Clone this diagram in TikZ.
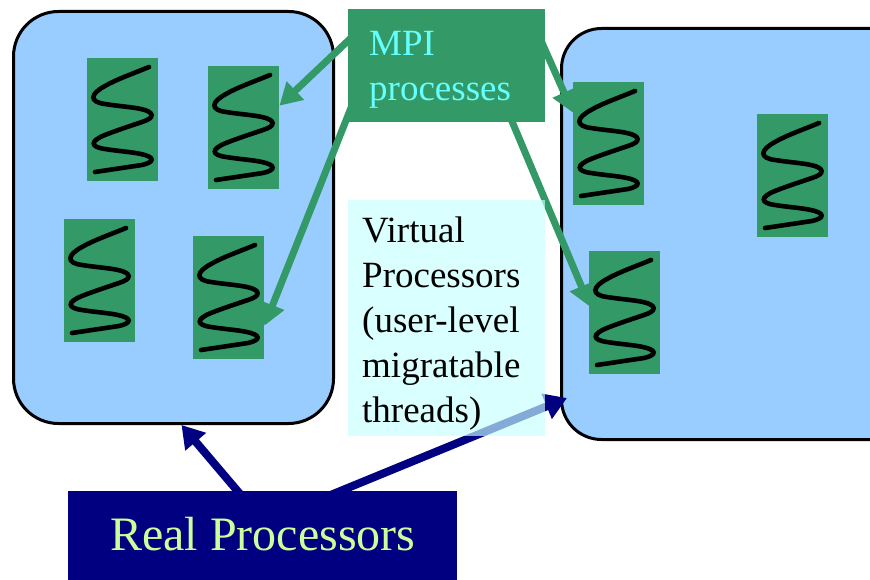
\documentclass[tikz,border=0pt]{standalone}
\usepackage{fontspec}
\setmainfont{Liberation Serif}
\usetikzlibrary{arrows.meta}
\definecolor{pblue}{HTML}{99CCFF}
\definecolor{tgreen}{HTML}{339966}
\definecolor{navyb}{HTML}{000080}
\definecolor{cyantext}{HTML}{66FFFF}
\definecolor{realtext}{HTML}{CCFF99}
\definecolor{vfill}{RGB}{198,255,255}
\pgfdeclarelayer{bgl}
\pgfdeclarelayer{arl}
\pgfsetlayers{bgl,arl,main}
\tikzset{
  procbox/.style={draw=black, line width=3pt, fill=pblue, rounded corners=45pt, anchor=north west, inner sep=0pt},
  thr/.style={fill=tgreen, minimum width=71pt, minimum height=123pt, inner sep=0pt, anchor=north west},
  squig/.style={line width=4.6pt, line cap=round, black},
  garrow/.style={draw=tgreen, line width=7pt, -{Triangle[length=22pt,width=24pt]}},
  narrow/.style={draw=navyb, line width=8pt, -{Triangle[length=22pt,width=26pt]}},
}
\newcommand\mythread[3]{%
  \node[thr] (#1) at (#2,#3) {};
  \draw[squig, shift={(#1.north west)}] (62,9) .. controls (45,16) and (28,22) .. (18,28) .. controls (3,36) and (2,44) .. (18,46) .. controls (30,48) and (45,49) .. (54,51) .. controls (68,54) and (68,60) .. (55,64) .. controls (40,69) and (28,73) .. (18,77) .. controls (3,83) and (3,89) .. (18,91) .. controls (30,93) and (45,94) .. (54,96) .. controls (68,99) and (68,104) .. (55,107) -- (8,114);
}
\begin{document}
\begin{tikzpicture}[x=1pt,y=-1pt]
\useasboundingbox (0,0) rectangle (870,580);
\begin{pgfonlayer}{bgl}
  \clip (0,0) rectangle (870,580);
  \node[procbox, minimum width=320pt, minimum height=412pt] (L) at (12,10) {};
  \node[procbox, minimum width=350pt, minimum height=411pt, rounded corners=40pt] (R) at (560,27) {};
  \mythread{t1}{87}{58}
  \mythread{t2}{208}{66}
  \mythread{t3}{64}{219}
  \mythread{t4}{193}{236}
  \mythread{t5}{573}{82}
  \mythread{t6}{757}{114}
  \mythread{t7}{589}{251}
\end{pgfonlayer}
\clip (0,0) rectangle (870,580);
\node[fill=tgreen, anchor=north west, inner ysep=0pt, inner xsep=21pt, text width=155pt, align=left,
      text height=46pt, text depth=67pt, text=cyantext, font=\fontsize{37}{45}\selectfont] (mpi) at (348,9)
      {MPI\\processes};
\node[fill=vfill, fill opacity=0.67, text opacity=1, anchor=north west, inner ysep=0pt, inner xsep=14pt, text width=169pt, align=left,
      text height=42pt, text depth=194pt, text=black, font=\fontsize{37}{45}\selectfont] (vp) at (348,200)
      {Virtual\\Processors\\(user-level\\migratable\\threads)};
\node[fill=navyb, anchor=north west, inner sep=0pt, minimum width=389pt, text height=59pt, text depth=40pt,
      text=realtext, font=\fontsize{48}{56}\selectfont] (real) at (68,491) {Real Processors};
\begin{pgfonlayer}{arl}
  \draw[garrow] ([xshift=17pt,yshift=41pt]mpi.west) -- ([yshift=22pt]t2.east);
  \draw[garrow] ([xshift=14pt,yshift=-14.5pt]mpi.west) -- ([yshift=-28pt]t4.east);
  \draw[garrow] ([xshift=-9pt,yshift=35.5pt]mpi.east) -- ([yshift=31pt]t5.west);
  \draw[garrow] ([xshift=56.5pt,yshift=22pt]mpi.south) -- ([xshift=1pt,yshift=6pt]t7.west);
  \draw[narrow] ([xshift=178pt,yshift=-10pt]real.north west) -- ([xshift=8pt]L.south);
  \draw[narrow] ([xshift=248pt,yshift=-10pt]real.north west) -- ([xshift=7pt,yshift=43pt]R.south west);
\end{pgfonlayer}
\end{tikzpicture}
\end{document}
